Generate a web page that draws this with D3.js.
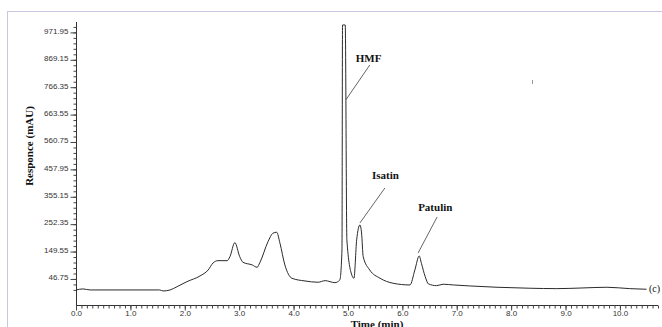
<!DOCTYPE html>
<html>
<head>
<meta charset="utf-8">
<script src="https://cdn.jsdelivr.net/npm/d3@7"></script>
<style>
  html, body { margin: 0; padding: 0; background: #fff; }
  svg { display: block; }
</style>
</head>
<body>
<svg id="chart" width="662" height="327"></svg>
<script>
// Chromatogram trace: time (min) and response (mAU)
const times = [0, 0.13, 0.26, 1.54, 1.60, 1.73, 1.86, 2.04, 2.28, 2.43, 2.52, 2.61, 2.78, 2.83, 2.92,
  3.01, 3.07, 3.24, 3.33, 3.38, 3.53, 3.62, 3.69, 3.75, 3.84, 3.97, 4.21, 4.45, 4.58, 4.76, 4.85,
  4.89, 4.90, 4.95, 4.98, 5.07, 5.11, 5.16, 5.22, 5.25, 5.28, 5.40, 5.59, 5.83, 6.14, 6.23, 6.31,
  6.35, 6.42, 6.48, 6.63, 6.75, 6.94, 7.24, 7.74, 8.35, 8.84, 9.32, 9.76, 10.18, 10.49];
const responses = [5.5, 9.3, 5.5, 5.5, 1.7, 5.5, 17.9, 36.6, 58.0, 80.5, 106.8, 115.4, 115.4, 130.4, 183.0,
  130.4, 109.4, 99.3, 90.6, 107.9, 186.7, 218.2, 222.0, 180.7, 99.3, 49.4, 39.2, 34.4, 40.4, 32.9, 43.0,
  155.6, 999.8, 999.8, 193.1, 61.8, 49.4, 193.1, 249.4, 219.3, 130.4, 80.5, 49.4, 30.6, 24.2, 80.5, 133.0,
  105.7, 55.4, 28.0, 21.6, 26.9, 24.2, 20.5, 15.6, 11.9, 10.4, 13.0, 15.6, 10.4, 8.1];

// Peak labels and the point on the trace each pointer touches
const peakNames = ['HMF', 'Isatin', 'Patulin'];
const peakTimes = [4.96, 5.22, 6.29];
const peakResponses = [718.4, 256.9, 144.3];

// Axis ticks
const yTickValues = [46.75, 149.55, 252.35, 355.15, 457.95, 560.75, 663.55, 766.35, 869.15, 971.95];
const xTickValues = [0, 1, 2, 3, 4, 5, 6, 7, 8, 9, 10];

const svg = d3.select('#chart');

// Light frame round the plot area
svg.append('line').attr('x1', 7).attr('y1', 11.5).attr('x2', 662).attr('y2', 11.5)
  .attr('stroke', '#c9c6e2').attr('stroke-width', 1);
svg.append('line').attr('x1', 7.5).attr('y1', 11).attr('x2', 7.5).attr('y2', 327)
  .attr('stroke', '#c9c6e2').attr('stroke-width', 1);

const x = d3.scaleLinear().domain([0, 10.7]).range([76, 658]);
const y = d3.scaleLinear().domain([-51, 1011]).range([305, 22]);

// Y axis: labelled major ticks plus five subdivisions
const yStep = yTickValues[1] - yTickValues[0];
const yMinor = d3.range(-2, 48).map(i => yTickValues[0] + i * yStep / 5)
  .filter(v => v >= y.domain()[0] && v <= y.domain()[1]);

const yAxisG = svg.append('g').attr('transform', 'translate(76.5,0)');
yAxisG.append('g')
  .call(d3.axisLeft(y).tickValues(yMinor).tickSize(3).tickFormat(''))
  .call(g => g.select('.domain').remove())
  .selectAll('line').attr('stroke', '#444');
yAxisG.append('g')
  .call(d3.axisLeft(y).tickValues(yTickValues).tickSize(6).tickPadding(2).tickFormat(d3.format('.2f')))
  .call(g => g.select('.domain').attr('stroke', '#333').attr('d', `M0,${y.range()[1]}V${y.range()[0]}`))
  .call(g => g.selectAll('line').attr('stroke', '#444'))
  .call(g => g.selectAll('text')
    .attr('font-family', 'Liberation Sans, Arial, sans-serif')
    .attr('font-size', 8).attr('fill', '#333').attr('dy', '0.1em'));

// X axis: integer labels and tenth-unit ticks
const xMinor = d3.range(0, 108).map(i => i / 10).filter(v => v <= x.domain()[1]);
const xAxisG = svg.append('g').attr('transform', 'translate(0,305.5)');
xAxisG.append('g')
  .call(d3.axisBottom(x).tickValues(xMinor).tickSize(3).tickFormat(''))
  .call(g => g.select('.domain').attr('stroke', '#333').attr('d', `M${x.range()[0]},0H${x.range()[1]}`))
  .selectAll('line').attr('stroke', '#444');
xAxisG.append('g')
  .call(d3.axisBottom(x).tickValues(xTickValues).tickSize(5).tickPadding(0).tickFormat(d3.format('.1f')))
  .call(g => g.select('.domain').remove())
  .call(g => g.selectAll('line').attr('stroke', '#444'))
  .call(g => g.selectAll('text')
    .attr('font-family', 'Liberation Sans, Arial, sans-serif')
    .attr('font-size', 8).attr('fill', '#333'));

// Axis titles
svg.append('text')
  .attr('transform', 'translate(33,146) rotate(-90)')
  .attr('text-anchor', 'middle')
  .attr('font-family', 'Liberation Serif, Times New Roman, serif')
  .attr('font-weight', 'bold').attr('font-size', 11).attr('fill', '#111')
  .text('Responce (mAU)');
svg.append('text')
  .attr('x', 377).attr('y', 328)
  .attr('text-anchor', 'middle')
  .attr('font-family', 'Liberation Serif, Times New Roman, serif')
  .attr('font-weight', 'bold').attr('font-size', 11).attr('fill', '#111')
  .text('Time (min)');

// The trace
const points = times.map((t, i) => [t, responses[i]]);
svg.append('path')
  .datum(points)
  .attr('fill', 'none')
  .attr('stroke', '#2a2a2a')
  .attr('stroke-width', 1)
  .attr('stroke-linejoin', 'round')
  .attr('d', d3.line().x(d => x(d[0])).y(d => y(d[1])).curve(d3.curveMonotoneX));

// Peak pointers and their labels
const offsets = [[24, -35], [25, -35], [19, -36]];
const textShift = [[-14, -3], [-13, -9], [-19, -6]];
peakNames.forEach((name, i) => {
  const px = x(peakTimes[i]);
  const py = y(peakResponses[i]);
  const [dx, dy] = offsets[i];
  svg.append('line')
    .attr('x1', px).attr('y1', py).attr('x2', px + dx).attr('y2', py + dy)
    .attr('stroke', '#555').attr('stroke-width', 0.9);
  svg.append('text')
    .attr('x', px + dx + textShift[i][0]).attr('y', py + dy + textShift[i][1])
    .attr('font-family', 'Liberation Serif, Times New Roman, serif')
    .attr('font-weight', 'bold').attr('font-size', 11).attr('fill', '#111')
    .text(name);
});

// Trace id at the end of the run
svg.append('text')
  .attr('x', 649).attr('y', 292)
  .attr('font-family', 'Liberation Serif, Times New Roman, serif')
  .attr('font-size', 10).attr('fill', '#111')
  .text('(c)');

// Stray mark in the original scan
svg.append('line').attr('x1', 532.5).attr('y1', 80).attr('x2', 532.5).attr('y2', 84)
  .attr('stroke', '#999').attr('stroke-width', 1);
</script>
</body>
</html>
